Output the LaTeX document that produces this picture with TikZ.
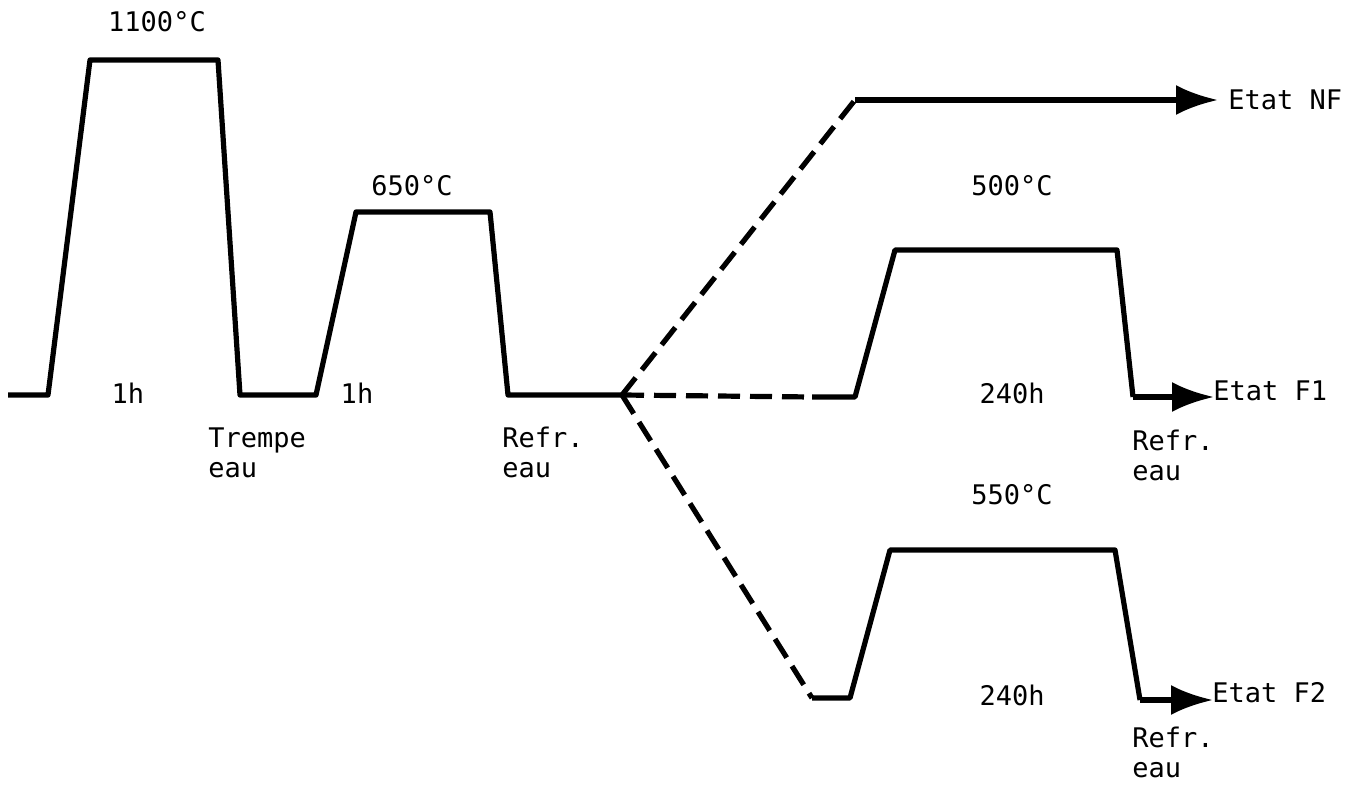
\documentclass[tikz,border=0pt]{standalone}
\usepackage{fontspec}
\setmonofont{DejaVu Sans Mono}
\usetikzlibrary{arrows.meta}

\begin{document}
\begin{tikzpicture}[x=0.5pt,y=-0.5pt,
        cycle/.style={line width=2.6pt, line join=round},
        branch/.style={line width=2.6pt, dash pattern=on 11pt off 5pt},
        toend/.style={line width=2.6pt, -{Latex[length=21pt,width=15pt]}},
        lbl/.style={font=\ttfamily\fontsize{13.5}{15}\selectfont, inner sep=0pt},
        note/.style={lbl, align=left, anchor=north west}]
            \useasboundingbox (0,0) rectangle (1349,786);

            % traitement initial
            \coordinate (s0) at (8,395);
            \coordinate (a1) at (48,395);
            \coordinate (a2) at (90,60);
            \coordinate (a3) at (218,60);
            \coordinate (a4) at (240,395);
            \coordinate (b1) at (316,395);
            \coordinate (b2) at (356,212);
            \coordinate (b3) at (490,212);
            \coordinate (b4) at (508,395);
            \coordinate (j) at (622,395);
            \draw[cycle] (s0) -- (a1) -- (a2) -- (a3) -- (a4) -- (b1) -- (b2) -- (b3) -- (b4) -- (j);

            % etat NF
            \coordinate (nf1) at (855,100);
            \coordinate (nf2) at (1218,100);
            \draw[branch] (j) -- (nf1);
            \draw[toend] (nf1) -- (nf2);

            % etat F1
            \coordinate (c0) at (812,397);
            \coordinate (c1) at (855,397);
            \coordinate (c2) at (895,250);
            \coordinate (c3) at (1117,250);
            \coordinate (c4) at (1133,397);
            \coordinate (c5) at (1214,397);
            \draw[branch] (j) -- (c0);
            \draw[cycle] (c0) -- (c1) -- (c2) -- (c3) -- (c4);
            \draw[toend] (c4) -- (c5);

            % etat F2
            \coordinate (d0) at (812,698);
            \coordinate (d1) at (850,698);
            \coordinate (d2) at (890,550);
            \coordinate (d3) at (1115,550);
            \coordinate (d4) at (1140,700);
            \coordinate (d5) at (1213,700);
            \draw[branch] (j) -- (d0);
            \draw[cycle] (d0) -- (d1) -- (d2) -- (d3) -- (d4);
            \draw[toend] (d4) -- (d5);

            \node[lbl] (t1100) at (157,22) {1100°C};
            \node[lbl] (h1) at (128,393) {1h};
            \node[note] (trempe) at (208,427) {Trempe\\eau};
            \node[lbl] (t650) at (412,186) {650°C};
            \node[lbl] (h2) at (357,393) {1h};
            \node[note] (refr1) at (502,427) {Refr.\\eau};
            \node[lbl] (t500) at (1012,186) {500°C};
            \node[lbl] (h3) at (1012,393) {240h};
            \node[note] (refr2) at (1132,430) {Refr.\\eau};
            \node[lbl] (t550) at (1012,495) {550°C};
            \node[lbl] (h4) at (1012,695) {240h};
            \node[note] (refr3) at (1132,727) {Refr.\\eau};
            \node[lbl, anchor=west] (nf) at (1228,100) {Etat NF};
            \node[lbl, anchor=west] (f1) at (1213,391) {Etat F1};
            \node[lbl, anchor=west] (f2) at (1212,693) {Etat F2};
        \end{tikzpicture}
\end{document}
